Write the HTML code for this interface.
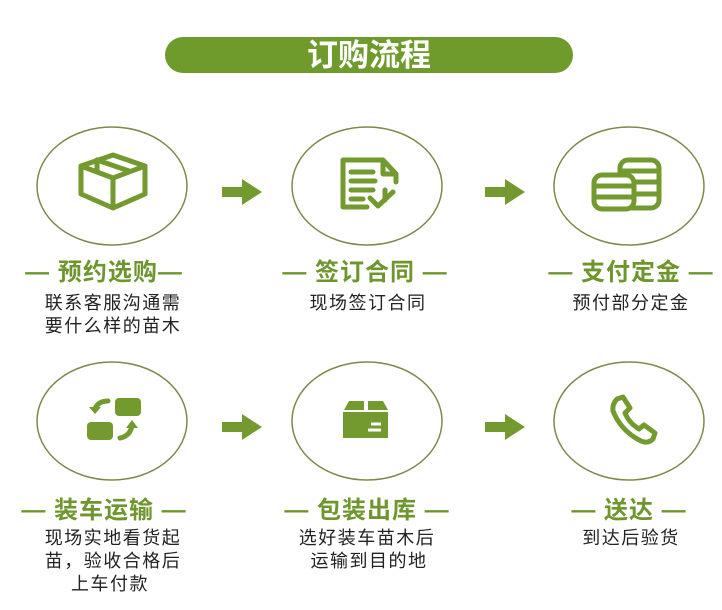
<!DOCTYPE html>
<html><head><meta charset="utf-8"><style>
html,body{margin:0;padding:0;background:#fff;}
svg{display:block;}
text{font-family:"Liberation Sans","Noto Sans CJK SC",sans-serif;}
.t{font-size:24px;font-weight:bold;fill:#6e962c;text-anchor:middle;letter-spacing:1px;}
.d{font-size:18px;fill:#222;text-anchor:middle;letter-spacing:1.5px;}
.c{fill:none;stroke:#7a8a4a;stroke-width:1.5;}
.g{fill:#739a2f;}
.s{fill:none;stroke:#739a2f;stroke-width:5;stroke-linejoin:round;stroke-linecap:round;}
</style></head><body>
<svg width="722" height="610" viewBox="0 0 722 610" xmlns="http://www.w3.org/2000/svg">
<rect x="165" y="37" width="408" height="36" rx="18" fill="#6f9a2c"/>
<text x="369" y="66" font-size="31" font-weight="bold" fill="#fff" text-anchor="middle">订购流程</text>

<ellipse class="c" cx="112" cy="186" rx="75" ry="59"/>
<ellipse class="c" cx="367" cy="186" rx="75" ry="59"/>
<ellipse class="c" cx="629" cy="186" rx="75" ry="59"/>
<ellipse class="c" cx="112" cy="421" rx="75" ry="59"/>
<ellipse class="c" cx="367" cy="421" rx="75" ry="59"/>
<ellipse class="c" cx="629" cy="421" rx="75" ry="59"/>

<g class="g">
<path d="M222 187h20v-8l20 13-20 13v-8h-20z"/>
<path d="M485 187h20v-8l20 13-20 13v-8h-20z"/>
<path d="M222 422h20v-8l20 13-20 13v-8h-20z"/>
<path d="M485 422h20v-8l20 13-20 13v-8h-20z"/>
</g>

<!-- icon 1 box -->
<g class="s" stroke-width="5">
<path d="M81 166l32-11 32 11v28l-32 14-32-14z"/>
<path d="M81 166l32 12 32-12"/><path d="M113 178v30"/>
<path d="M97 160l32 11"/><path d="M97 172v-12"/>
</g>
<!-- icon 2 doc -->
<g class="s" stroke-width="4">
<path d="M385 200v-10M383 160h-40v47h24M383 160v14h13M383 160l13 14v8"/>
<path d="M351 172h22M351 181h24M351 190h22M351 199h12"/>
<path d="M370 198l8 8 15-14"/>
</g>
<!-- icon 3 coins -->
<g class="s" stroke-width="3.5">
<rect x="620" y="160" width="39" height="48" rx="8"/>
<path d="M620 171h39M620 182h39M620 194h39"/>
<rect x="594" y="175" width="40" height="34" rx="8" fill="#fff"/>
<path d="M594 186h40M594 197h40"/>
</g>
<!-- icon 4 swap -->
<g class="g">
<rect x="115" y="398" width="26" height="18" rx="4"/>
<rect x="87" y="422" width="26" height="18" rx="4"/>
</g>
<g class="s" stroke-width="4">
<path d="M108 401q-10 0-13 8"/><path d="M120 438q10-2 12-12"/>
</g>
<path class="g" d="M89 407l12 0-6 7z M126 428l12 0-6-8z"/>
<!-- icon 5 package -->
<g class="g">
<path d="M344 410l5-9h15v9zM368 410v-9h15l5 9z"/>
<rect x="343" y="412" width="45" height="26"/>
</g>
<path d="M371 424h10M368 430h13" stroke="#fff" stroke-width="3"/>
<!-- icon 6 phone -->
<path class="s" stroke-width="4" d="M617 399l6-2 7 11-5 5q4 10 14 16l5-4 11 8-2 6q-5 5-12 2-20-10-28-30-1-7 4-12z"/>

<text class="t" x="104" y="280">— 预约选购—</text>
<text class="t" x="365" y="280">— 签订合同 —</text>
<text class="t" x="631" y="280">— 支付定金 —</text>
<text class="t" x="104" y="518">— 装车运输 —</text>
<text class="t" x="367" y="518">— 包装出库 —</text>
<text class="t" x="629" y="518">— 送达 —</text>

<text class="d" x="113" y="309">联系客服沟通需</text>
<text class="d" x="113" y="332">要什么样的苗木</text>
<text class="d" x="368" y="309">现场签订合同</text>
<text class="d" x="631" y="309">预付部分定金</text>
<text class="d" x="113" y="544">现场实地看货起</text>
<text class="d" x="113" y="567">苗，验收合格后</text>
<text class="d" x="110" y="590">上车付款</text>
<text class="d" x="367" y="544">选好装车苗木后</text>
<text class="d" x="369" y="567">运输到目的地</text>
<text class="d" x="631" y="544">到达后验货</text>
</svg>
</body></html>
